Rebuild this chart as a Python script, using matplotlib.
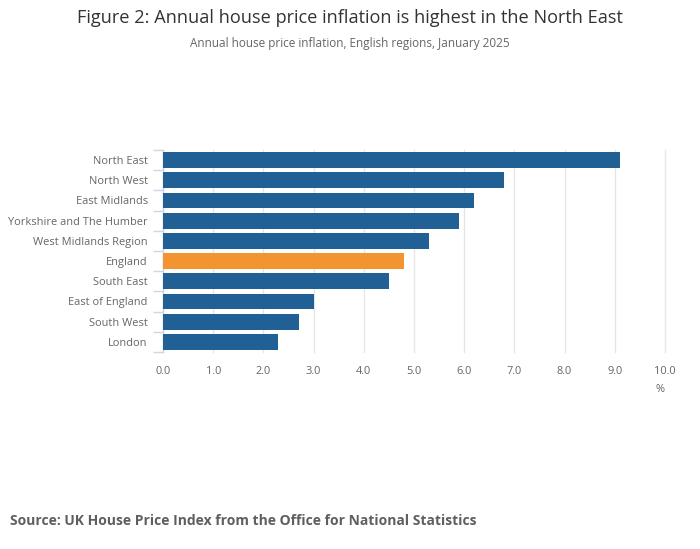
import matplotlib.pyplot as plt
from matplotlib.ticker import FixedLocator, FormatStrFormatter

plt.rcParams['font.family'] = ['Open Sans', 'DejaVu Sans']

# data (top to bottom)
regions = ['North East', 'North West', 'East Midlands', 'Yorkshire and The Humber',
           'West Midlands Region', 'England', 'South East', 'East of England',
           'South West', 'London']
inflation = [9.1, 6.8, 6.2, 5.9, 5.3, 4.8, 4.5, 3.0, 2.7, 2.3]
highlight = 'England'

blue = '#206095'
orange = '#F39431'
colors = [orange if r == highlight else blue for r in regions]

fig = plt.figure(figsize=(7, 5.49), dpi=100)
ax = fig.add_axes([163 / 700, 1 - 352 / 549, (665 - 163) / 700, 202 / 549])

pos = list(range(len(regions)))
ax.barh(pos, inflation, height=0.79, color=colors, zorder=3)
ax.set_ylim(len(regions) - 0.5, -0.5)
ax.set_xlim(0, 10)

ax.set_yticks(pos)
ax.set_yticklabels(regions, fontsize=7.9, color='#666666')
ax.yaxis.set_minor_locator(FixedLocator([p - 0.5 for p in range(len(regions) + 1)]))
ax.tick_params(axis='y', which='major', length=0, pad=11)
ax.tick_params(axis='y', which='minor', length=7.5, width=1, color='#ccd6eb')

ax.set_xticks(range(0, 11))
ax.xaxis.set_major_formatter(FormatStrFormatter('%.1f'))
ax.tick_params(axis='x', length=0, pad=10, labelsize=7.9, labelcolor='#666666')
ax.grid(axis='x', color='#e6e6e6', linewidth=1, zorder=0)
for line in ax.get_xgridlines():
    line.set_clip_on(False)

for side in ['top', 'right', 'bottom']:
    ax.spines[side].set_visible(False)
ax.spines['left'].set_color('#ccd6eb')
ax.spines['left'].set_linewidth(1)

fig.text(660 / 700, 1 - 389 / 549, '%', fontsize=7.9, color='#666666',
         ha='center', va='center')

fig.text(0.5, 1 - 18 / 549,
         'Figure 2: Annual house price inflation is highest in the North East',
         fontsize=13.1, color='#333333', ha='center', va='center')
fig.text(0.5, 1 - 44 / 549,
         'Annual house price inflation, English regions, January 2025',
         fontsize=8.5, color='#666666', ha='center', va='center')
fig.text(10 / 700, 1 - 521 / 549,
         'Source: UK House Price Index from the Office for National Statistics',
         fontsize=10.0, fontweight='bold', color='#5f5f5f', ha='left', va='center')

fig.savefig('out.png', dpi=100)
